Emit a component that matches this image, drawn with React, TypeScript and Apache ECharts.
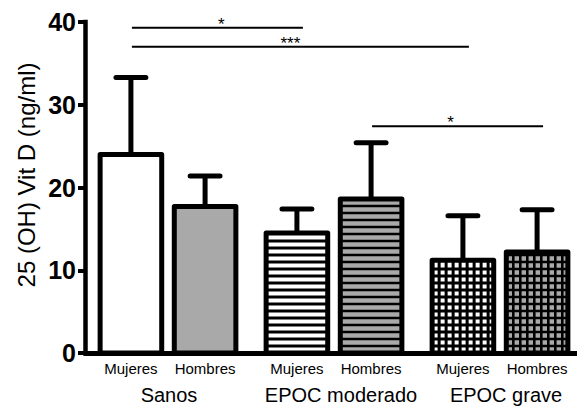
import React, { useEffect, useRef } from 'react';
import * as echarts from 'echarts';

// ---- data ----
const groups = ['Sanos', 'EPOC moderado', 'EPOC grave'];
const sexes = ['Mujeres', 'Hombres'];
const barGroup = [0, 0, 1, 1, 2, 2];
const barSex = [0, 1, 0, 1, 0, 1];
const means = [24.0, 17.7, 14.5, 18.6, 11.2, 12.2];
const sds = [9.3, 3.7, 2.9, 6.8, 5.4, 5.1];
const yTicks = [0, 10, 20, 30, 40];
const sigFrom = [0, 0, 3];
const sigTo = [2, 4, 5];
const sigY = [39.3, 37.0, 27.4];
const sigText = ['*', '***', '*'];

// ---- styles / layout ----
const FONT = "'Liberation Sans', Arial, Helvetica, sans-serif";
const GRAY = '#a9a9a9';
const FILLS = ['#ffffff', GRAY, '#ffffff', GRAY, '#ffffff', GRAY];
const PATTERNS = ['solid', 'solid', 'hstripe', 'hstripe', 'grid', 'grid'];
const BAR_OFFSET = 0.2234;
const BAR_WIDTH = 0.371;
const CAP_HALF = 0.09;
const PERIOD = 7;
const SIG_LABEL_NUDGE = [4, -10, -7];

export default function App() {
  const ref = useRef<HTMLDivElement>(null);

  useEffect(() => {
    const chart = echarts.init(ref.current!, null, { renderer: 'svg' });

    const barData = means.map((m, i) => [
      barGroup[i] + (barSex[i] === 0 ? -BAR_OFFSET : BAR_OFFSET),
      m,
      sds[i],
    ]);
    const sigData = sigFrom.map((f, i) => [barData[f][0], barData[sigTo[i]][0], sigY[i], i]);

    const renderBar = (params: any, api: any) => {
      const idx = params.dataIndex;
      const xv = api.value(0);
      const m = api.value(1);
      const sd = api.value(2);
      const [cx, yTop] = api.coord([xv, m]);
      const y0 = api.coord([xv, 0])[1];
      const yErr = api.coord([xv, m + sd])[1];
      const band = api.size([1, 0])[0];
      const w = band * BAR_WIDTH;
      const x0 = cx - w / 2;
      const x1 = cx + w / 2;
      const h = y0 - yTop;
      const children: any[] = [];
      children.push({
        type: 'rect',
        shape: { x: x0, y: yTop, width: w, height: h },
        style: { fill: FILLS[idx], stroke: 'none' },
      });
      const pat = PATTERNS[idx];
      const lw = FILLS[idx] === '#ffffff' ? 3 : 2.6;
      if (pat === 'hstripe' || pat === 'grid') {
        for (let y = y0 - PERIOD; y > yTop + 2; y -= PERIOD) {
          children.push({
            type: 'line',
            shape: { x1: x0, y1: y, x2: x1, y2: y },
            style: { stroke: '#000', lineWidth: lw },
          });
        }
      }
      if (pat === 'grid') {
        for (let x = x0 + PERIOD; x < x1 - 2; x += PERIOD) {
          children.push({
            type: 'line',
            shape: { x1: x, y1: yTop, x2: x, y2: y0 },
            style: { stroke: '#000', lineWidth: lw },
          });
        }
      }
      children.push({
        type: 'line',
        shape: { x1: cx, y1: yTop, x2: cx, y2: yErr },
        style: { stroke: '#000', lineWidth: 5 },
      });
      children.push({
        type: 'line',
        shape: { x1: cx - band * CAP_HALF, y1: yErr, x2: cx + band * CAP_HALF, y2: yErr },
        style: { stroke: '#000', lineWidth: 5, lineCap: 'round' },
      });
      children.push({
        type: 'rect',
        shape: { x: x0, y: yTop, width: w, height: h },
        style: { fill: 'none', stroke: '#000', lineWidth: 5, lineJoin: 'round' },
      });
      children.push({
        type: 'text',
        x: cx,
        y: y0 + 15,
        style: {
          text: sexes[barSex[idx]],
          font: `15px ${FONT}`,
          fill: '#000',
          align: 'center',
          verticalAlign: 'middle',
        },
      });
      return { type: 'group', children };
    };

    const renderSig = (params: any, api: any) => {
      const i = api.value(3);
      const [xa, y] = api.coord([api.value(0), api.value(2)]);
      const xb = api.coord([api.value(1), api.value(2)])[0];
      const xs = xa + 1;
      const xe = xb + 6;
      return {
        type: 'group',
        children: [
          {
            type: 'line',
            shape: { x1: xs, y1: y, x2: xe, y2: y },
            style: { stroke: '#000', lineWidth: 2 },
          },
          {
            type: 'text',
            x: (xs + xe) / 2 + SIG_LABEL_NUDGE[i],
            y: y + 5,
            style: {
              text: sigText[i],
              font: `17px ${FONT}`,
              fill: '#000',
              align: 'center',
              verticalAlign: 'bottom',
            },
          },
        ],
      };
    };

    chart.setOption({
      animation: false,
      backgroundColor: '#ffffff',
      grid: { left: 85, right: -6, top: 22, bottom: 54, containLabel: false, outerBoundsMode: 'none' },
      xAxis: [
        {
          type: 'category',
          data: groups,
          boundaryGap: true,
          axisLine: { show: true, onZero: false, lineStyle: { color: '#000', width: 5 } },
          axisTick: { show: false },
          splitLine: { show: false },
          axisLabel: {
            interval: 0,
            hideOverlap: false,
            margin: 32,
            color: '#000',
            fontSize: 20,
            fontFamily: FONT,
            formatter: (v: string, i: number) => `{g${i}|${v}}`,
            rich: {
              g0: { fontSize: 20, fontFamily: FONT, color: '#000', padding: [0, 0, 0, 2] },
              g1: { fontSize: 20, fontFamily: FONT, color: '#000', padding: [0, 0, 0, 14] },
              g2: { fontSize: 20, fontFamily: FONT, color: '#000', padding: [0, 0, 0, 12] },
            },
          },
        },
        { type: 'value', min: -0.5, max: 2.5, show: false },
      ],
      yAxis: {
        type: 'value',
        min: yTicks[0],
        max: yTicks[yTicks.length - 1],
        interval: yTicks[1] - yTicks[0],
        axisLine: { show: true, onZero: false, lineStyle: { color: '#000', width: 4.5, cap: 'square' } },
        axisTick: { show: true, length: 7, lineStyle: { color: '#000', width: 4 } },
        splitLine: { show: false },
        axisLabel: {
          margin: 9,
          color: '#000',
          fontSize: 25,
          fontWeight: 'bold',
          fontFamily: FONT,
        },
      },
      graphic: [
        {
          type: 'text',
          x: 26,
          y: 175,
          rotation: Math.PI / 2,
          style: {
            text: '25 (OH) Vit D (ng/ml)',
            font: `24px ${FONT}`,
            fill: '#000',
            align: 'center',
            verticalAlign: 'middle',
          },
        },
      ],
      series: [
        {
          type: 'custom',
          xAxisIndex: 1,
          clip: false,
          renderItem: renderBar,
          data: barData,
          encode: { x: 0, y: 1 },
        },
        {
          type: 'custom',
          xAxisIndex: 1,
          clip: false,
          renderItem: renderSig,
          data: sigData,
          encode: { x: [0, 1], y: 2 },
        },
      ],
    });

    return () => chart.dispose();
  }, []);

  return (
    <div
      ref={ref}
      style={{ position: 'fixed', left: 0, top: 0, width: 577, height: 407, background: '#fff' }}
    />
  );
}
